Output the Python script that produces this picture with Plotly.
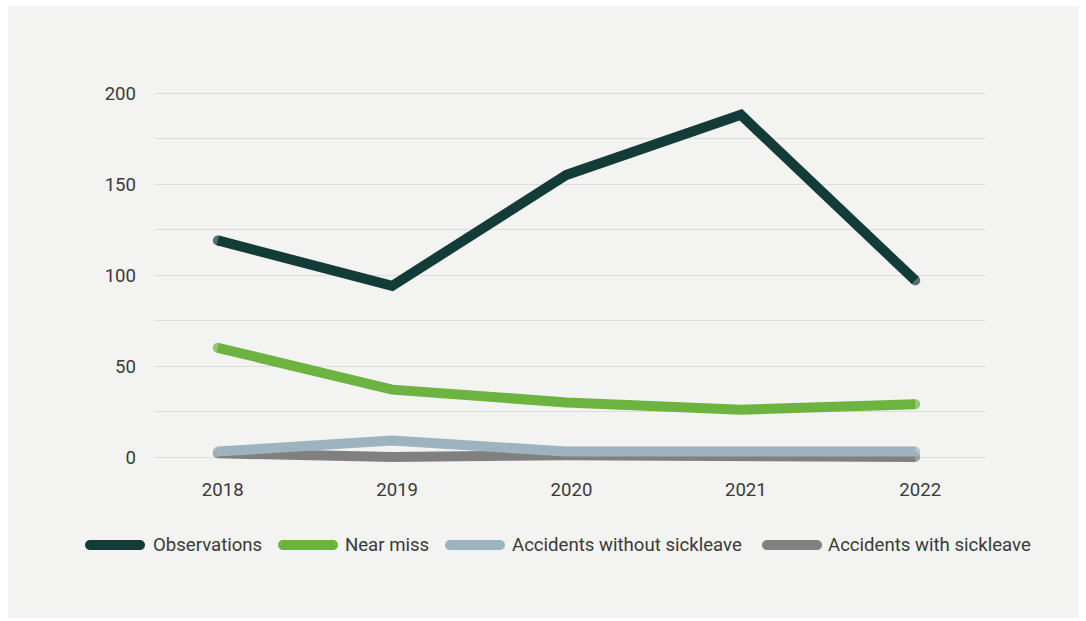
import plotly.graph_objects as go

years = ["2018", "2019", "2020", "2021", "2022"]
observations = [119, 94, 155, 188, 97]
near_miss = [60, 37, 30, 26, 29]
acc_without = [3, 9, 3, 3, 3]
acc_with = [2, 0, 1, 0, 0]

series_names = ["Observations", "Near miss", "Accidents without sickleave", "Accidents with sickleave"]
series_values = [observations, near_miss, acc_without, acc_with]
colors = ["#133b38", "#6cb33f", "#9db3c0", "#808080"]

W, H = 1086, 621
L, R, T, B = 155, 985, 85, 463
PXU = 1.82  # pixels per unit
y_lo = -(B - 457) / PXU
y_hi = 200 + (93 - T) / PXU


def px2x(p):
    return (p - L) / (R - L)


def py2y(p):
    return (B - p) / (B - T)


fig = go.Figure()
# draw bottom-most first
for idx in [3, 2, 1, 0]:
    vals = series_values[idx]
    sizes = [10] + [0] * (len(vals) - 2) + [10]
    fig.add_trace(go.Scatter(
        x=years, y=vals, mode="lines+markers", name=series_names[idx],
        line=dict(color=colors[idx], width=10),
        marker=dict(size=sizes, color=colors[idx], line=dict(width=0)),
        showlegend=False, hoverinfo="x+y+name"))

# background panel
fig.add_shape(type="rect", xref="paper", yref="paper",
              x0=px2x(8), x1=px2x(1079), y0=py2y(618), y1=py2y(6),
              fillcolor="#f3f3f1", line=dict(width=0), layer="below")

# manual legend
legend_sym_x = [85, 278, 445, 762]
legend_txt_x = [151, 343, 510, 826]
ly = py2y(545)
k = 5 * 0.5523
pill = (f"M5,5 L55,5 C{55+k},5 60,{k} 60,0 C60,{-k} {55+k},-5 55,-5 L5,-5 "
        f"C{5-k},-5 0,{-k} 0,0 C0,{k} {5-k},5 5,5 Z")
for i, name in enumerate(series_names):
    fig.add_shape(type="path", xref="paper", yref="paper", xsizemode="pixel", ysizemode="pixel",
                  xanchor=px2x(legend_sym_x[i]), yanchor=ly, path=pill,
                  fillcolor=colors[i], line=dict(width=0))
    fig.add_annotation(xref="paper", yref="paper", x=px2x(legend_txt_x[i]), y=ly,
                       xanchor="left", yanchor="middle", text=name, showarrow=False,
                       font=dict(family="Roboto", size=18.6, color="#3a3a3a"))

fig.update_layout(
    width=W, height=H,
    margin=dict(l=L, r=W - R, t=T, b=H - B),
    paper_bgcolor="white", plot_bgcolor="rgba(0,0,0,0)",
    font=dict(family="Roboto", size=18.6, color="#3a3a3a"),
    showlegend=False,
    xaxis=dict(type="category", range=[-0.36, 4.40], showgrid=False, zeroline=False,
               showline=False, ticks="", ticklabelstandoff=13, ticklabelshift=5),
    yaxis=dict(range=[y_lo, y_hi], tickvals=[0, 50, 100, 150, 200], showgrid=True,
               gridcolor="#dcdcdc", gridwidth=1,
               minor=dict(tickvals=[25, 75, 125, 175], showgrid=True, gridcolor="#dcdcdc", gridwidth=1),
               zeroline=False, showline=False, ticks="", ticklabelstandoff=18),
)

fig.write_html("out.html")
